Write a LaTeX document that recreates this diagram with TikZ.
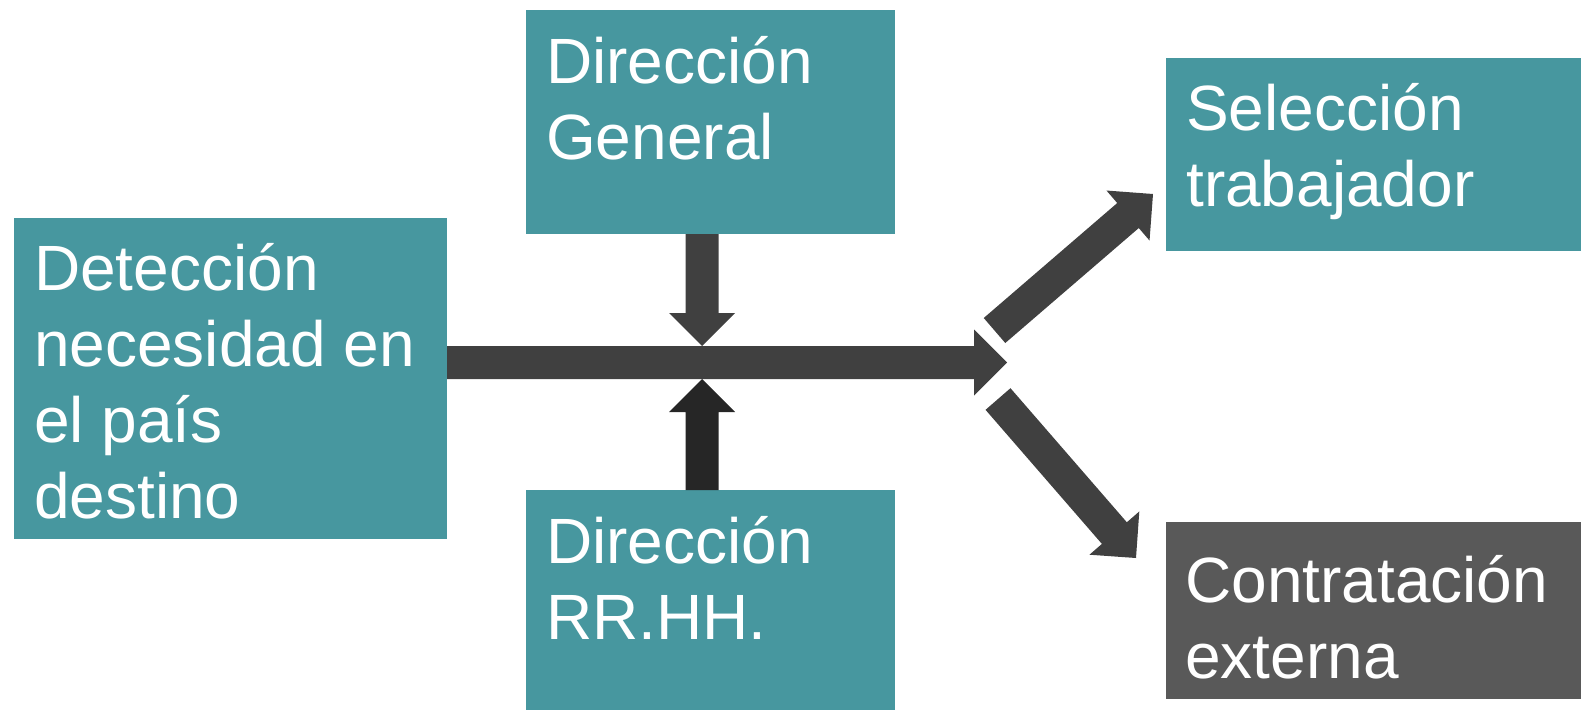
\documentclass[tikz,border=0pt]{standalone}
\usepackage{fontspec}
\setmainfont{Liberation Sans}
\usetikzlibrary{calc}
\definecolor{tealbox}{RGB}{71,151,159}
\definecolor{arrowgray}{RGB}{64,64,64}
\definecolor{arrowdark}{RGB}{38,38,38}
\definecolor{boxgray}{RGB}{89,89,89}
% block arrow from named point #2 to named point #3
\newcommand\BlockArr[3][arrowgray]{%
  \coordinate (hb) at ($(#3)!33pt!(#2)$);
  \fill[#1] ($(#2)!16.5pt!90:(#3)$) -- ($(hb)!16.5pt!90:(#3)$) -- ($(hb)!33pt!90:(#3)$)
    -- (#3) -- ($(hb)!33pt!-90:(#3)$) -- ($(hb)!16.5pt!-90:(#3)$)
    -- ($(#2)!16.5pt!-90:(#3)$) -- cycle;}
\begin{document}
\begin{tikzpicture}[x=1pt,y=-1pt,
  box/.style={fill=tealbox, draw=none, inner sep=0pt, outer sep=0pt, anchor=north west},
  txt/.style={text=white, font=\fontsize{64}{76}\selectfont, align=left, inner sep=0pt, anchor=north west}]
\useasboundingbox (0,0) rectangle (1581,710);
% boxes
\node[box, minimum width=433pt, minimum height=321pt] (A) at (14,218) {};
\node[box, minimum width=369pt, minimum height=224pt] (B) at (526,10) {};
\node[box, minimum width=369pt, minimum height=220pt] (C) at (526,490) {};
\node[box, minimum width=415pt, minimum height=193pt] (D) at (1166,58) {};
\node[box, fill=boxgray, minimum width=415pt, minimum height=177pt] (E) at (1166,522) {};
% texts
\node[txt] (At) at ($(A.north west)+(20,17)$) {\rule{0pt}{55pt}Detección\\necesidad en\\el país\\destino};
\node[txt] (Bt) at ($(B.north west)+(20,18)$) {\rule{0pt}{55pt}Dirección\\General};
\node[txt] (Ct) at ($(C.north west)+(20,18)$) {\rule{0pt}{55pt}Dirección\\RR.HH.};
\node[txt] (Dt) at ($(D.north west)+(20,17)$) {\rule{0pt}{55pt}Selección\\trabajador};
\node[txt] (Et) at ($(E.north west)+(19,25)$) {\rule{0pt}{55pt}Contratación\\externa};
% connector points
\coordinate (hub) at (702,362.5);
\coordinate (split) at (1007,362.5);
\coordinate (h0) at (A.east |- hub);
\coordinate (v0) at (hub |- B.south);
\coordinate (v1) at ($(hub)+(0,-16.5)$);
\coordinate (w0) at (hub |- C.north);
\coordinate (w1) at ($(hub)+(0,16.5)$);
\coordinate (u0) at (994.5,330.5);
\coordinate (u1) at (1153,194);
\coordinate (l0) at (998,399);
\coordinate (l1) at (1136,558);
% arrows
\BlockArr{h0}{split}
\BlockArr{v0}{v1}
\BlockArr[arrowdark]{w0}{w1}
\BlockArr{u0}{u1}
\BlockArr{l0}{l1}
\end{tikzpicture}
\end{document}
